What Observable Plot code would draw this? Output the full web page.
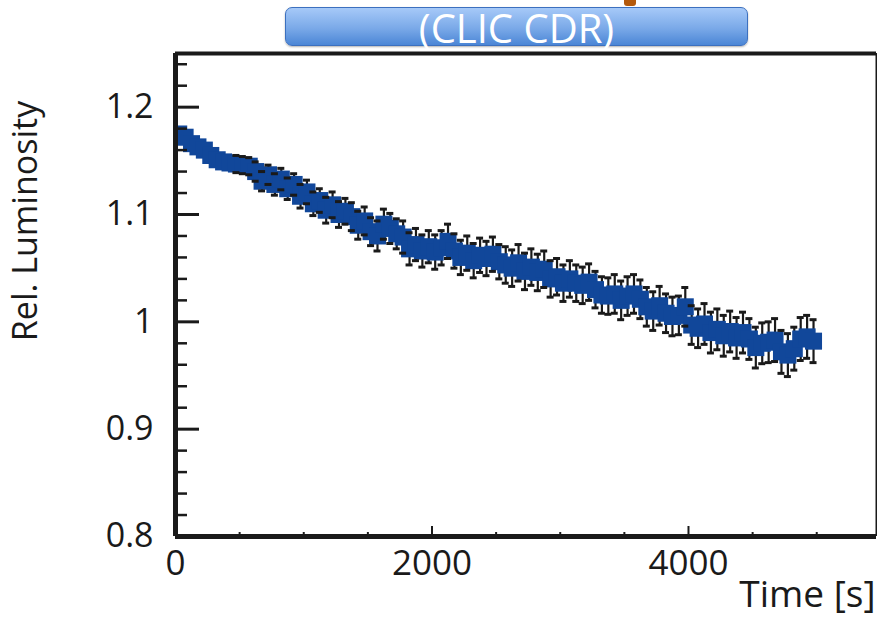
<!DOCTYPE html>
<html>
<head>
<meta charset="utf-8">
<script src="https://cdn.jsdelivr.net/npm/d3@7"></script>
<script src="https://cdn.jsdelivr.net/npm/@observablehq/plot@0.6"></script>
<style>
  html, body { margin: 0; padding: 0; background: #fff; overflow: hidden; }
  #wrap { position: relative; width: 877px; height: 623px; }
  #chart svg { display: block; }
  .tab {
    position: absolute; left: 624px; top: 0; width: 12px; height: 6px;
    background: #b4590b; border-radius: 0 0 3px 3px;
  }
  .banner {
    position: absolute; left: 285px; top: 7px; width: 461px; height: 37px;
    border: 1px solid #3c70bf; border-radius: 7px;
    background: linear-gradient(#a6c9f8, #7aa9e8 55%, #4b86d6);
    box-shadow: 0 1px 2px rgba(0,0,0,0.3);
  }
  .banner-text {
    position: absolute; left: 285px; top: 2px; width: 463px; height: 52px;
    display: flex; align-items: center; justify-content: center;
    font-family: "Open Sans", sans-serif; font-size: 40px; color: #fff;
    line-height: 1;
  }
</style>
</head>
<body>
<div id="wrap">
  <div id="chart"></div>
  <div class="tab"></div>
  <div class="banner"></div>
  <div class="banner-text">(CLIC CDR)</div>
</div>
<script>
// Relative luminosity vs. time, 50 s bins
const time = [
  25, 75, 125, 175, 225, 275, 325, 375, 425, 475,
  525, 575, 625, 675, 725, 775, 825, 875, 925, 975,
  1025, 1075, 1125, 1175, 1225, 1275, 1325, 1375, 1425, 1475,
  1525, 1575, 1625, 1675, 1725, 1775, 1825, 1875, 1925, 1975,
  2025, 2075, 2125, 2175, 2225, 2275, 2325, 2375, 2425, 2475,
  2525, 2575, 2625, 2675, 2725, 2775, 2825, 2875, 2925, 2975,
  3025, 3075, 3125, 3175, 3225, 3275, 3325, 3375, 3425, 3475,
  3525, 3575, 3625, 3675, 3725, 3775, 3825, 3875, 3925, 3975,
  4025, 4075, 4125, 4175, 4225, 4275, 4325, 4375, 4425, 4475,
  4525, 4575, 4625, 4675, 4725, 4775, 4825, 4875, 4925, 4975
];

const luminosity = [
  1.175, 1.172, 1.166, 1.163, 1.160, 1.155, 1.151, 1.149, 1.148, 1.147,
  1.146, 1.145, 1.140, 1.131, 1.137, 1.128, 1.133, 1.124, 1.128, 1.117,
  1.121, 1.110, 1.113, 1.104, 1.109, 1.100, 1.103, 1.098, 1.090, 1.094,
  1.084, 1.080, 1.091, 1.087, 1.082, 1.079, 1.068, 1.072, 1.066, 1.070,
  1.065, 1.069, 1.075, 1.066, 1.060, 1.064, 1.057, 1.062, 1.059, 1.063,
  1.056, 1.053, 1.050, 1.055, 1.047, 1.051, 1.046, 1.049, 1.040, 1.042,
  1.036, 1.040, 1.036, 1.034, 1.037, 1.030, 1.025, 1.024, 1.026, 1.020,
  1.024, 1.026, 1.021, 1.014, 1.010, 1.015, 1.008, 1.005, 1.006, 1.014,
  0.997, 0.994, 0.998, 0.990, 0.993, 0.987, 0.991, 0.985, 0.990, 0.984,
  0.976, 0.980, 0.981, 0.983, 0.972, 0.969, 0.975, 0.984, 0.986, 0.982
];

const error = [
  0.005, 0.005, 0.006, 0.006, 0.006, 0.007, 0.007, 0.007, 0.007, 0.008,
  0.008, 0.008, 0.009, 0.009, 0.009, 0.010, 0.010, 0.010, 0.010, 0.011,
  0.011, 0.011, 0.011, 0.012, 0.012, 0.012, 0.012, 0.013, 0.013, 0.013,
  0.013, 0.014, 0.014, 0.014, 0.014, 0.015, 0.015, 0.015, 0.015, 0.015,
  0.016, 0.016, 0.016, 0.016, 0.016, 0.016, 0.016, 0.016, 0.016, 0.016,
  0.016, 0.017, 0.017, 0.017, 0.017, 0.017, 0.017, 0.017, 0.017, 0.017,
  0.017, 0.017, 0.017, 0.017, 0.017, 0.017, 0.017, 0.017, 0.018, 0.018,
  0.018, 0.018, 0.018, 0.018, 0.018, 0.018, 0.018, 0.018, 0.018, 0.018,
  0.018, 0.018, 0.019, 0.019, 0.019, 0.019, 0.019, 0.019, 0.019, 0.019,
  0.019, 0.019, 0.019, 0.020, 0.020, 0.020, 0.020, 0.020, 0.020, 0.020
];

const xTicks = [0, 2000, 4000];
const xTickLabels = ["0", "2000", "4000"];
const yTicks = [0.8, 0.9, 1.0, 1.1, 1.2];
const yTickLabels = ["0.8", "0.9", "1", "1.1", "1.2"];
const xTitle = "Time [s]";
const yTitle = "Rel. Luminosity";

const xDomain = [0, 5466];
const yDomain = [0.8, 1.25];

// plot geometry
const W = 877, H = 623;
const M = {left: 175, right: 1, top: 53, bottom: 87};
const pxPerX = (W - M.left - M.right) / (xDomain[1] - xDomain[0]);
const pxPerY = (H - M.top - M.bottom) / (yDomain[1] - yDomain[0]);
const dxOf = px => px / pxPerX;   // pixel length -> x data length
const dyOf = px => px / pxPerY;   // pixel length -> y data length

const points = time.map((t, i) => ({t, lumi: luminosity[i], err: error[i]}));
// bars shorter than the half-width of a marker stay hidden inside it
const markerHalf = 8.5;
const visibleBars = points.filter(d => d.err > dyOf(markerHalf));

const xMinor = d3.range(0, xDomain[1], 500).filter(v => !xTicks.includes(v));
const yMinor = d3.range(0.82, 1.25, 0.02).map(v => +v.toFixed(2)).filter(v => !yTicks.some(t => Math.abs(t - v) < 1e-9));

const ink = "#1a1a1a";
const markerBlue = "#11479a";
const capHalf = dxOf(3.5);

const chart = Plot.plot({
  width: W,
  height: H,
  marginLeft: M.left,
  marginRight: M.right,
  marginTop: M.top,
  marginBottom: M.bottom,
  style: {fontFamily: "'Open Sans', sans-serif", fontSize: "34px", color: ink, background: "#fff"},
  x: {domain: xDomain, axis: null},
  y: {domain: yDomain, axis: null},
  marks: [
    // error bar stems (under the markers)
    Plot.ruleX(visibleBars, {x: "t", y1: d => d.lumi - d.err, y2: d => d.lumi + d.err, stroke: ink, strokeWidth: 2.2, clip: true}),
    // square markers
    Plot.dot(points, {x: "t", y: "lumi", symbol: "square", r: 9.6, fill: markerBlue, stroke: "none", clip: true}),
    // error bar end caps
    Plot.ruleY(visibleBars, {y: d => d.lumi + d.err, x1: d => d.t - capHalf, x2: d => d.t + capHalf, stroke: ink, strokeWidth: 3}),
    Plot.ruleY(visibleBars, {y: d => d.lumi - d.err, x1: d => d.t - capHalf, x2: d => d.t + capHalf, stroke: ink, strokeWidth: 3}),
    // inward ticks on the y axis
    Plot.ruleY(yTicks, {x1: xDomain[0], x2: xDomain[0] + dxOf(24), stroke: ink, strokeWidth: 3}),
    Plot.ruleY(yMinor, {x1: xDomain[0], x2: xDomain[0] + dxOf(12), stroke: ink, strokeWidth: 2.5}),
    // inward ticks on the x axis
    Plot.ruleX(xTicks, {y1: yDomain[0], y2: yDomain[0] + dyOf(10), stroke: ink, strokeWidth: 2}),
    Plot.ruleX(xMinor, {y1: yDomain[0], y2: yDomain[0] + dyOf(4), stroke: ink, strokeWidth: 2}),
    // frame
    Plot.ruleX([xDomain[0]], {stroke: ink, strokeWidth: 5}),
    Plot.ruleY([yDomain[0]], {stroke: ink, strokeWidth: 5}),
    Plot.ruleY([yDomain[1]], {stroke: ink, strokeWidth: 4}),
    Plot.ruleX([xDomain[1]], {stroke: ink, strokeWidth: 2}),
    // tick labels
    Plot.axisY(yTicks, {tickSize: 0, tickPadding: 22, tickFormat: (d, i) => yTickLabels[i], fill: ink, label: null}),
    Plot.axisX(xTicks, {tickSize: 0, tickPadding: 14, tickFormat: (d, i) => xTickLabels[i], fill: ink, label: null, fontSize: 35}),
    // axis titles
    Plot.text([yTitle], {frameAnchor: "left", textAnchor: "middle", rotate: -90, dx: -149, dy: -74, fill: ink, fontSize: 34}),
    Plot.text([xTitle], {frameAnchor: "bottom-right", textAnchor: "end", dx: -1, dy: 70, fill: ink, fontSize: 37})
  ]
});

document.getElementById("chart").appendChild(chart);
</script>
</body>
</html>
